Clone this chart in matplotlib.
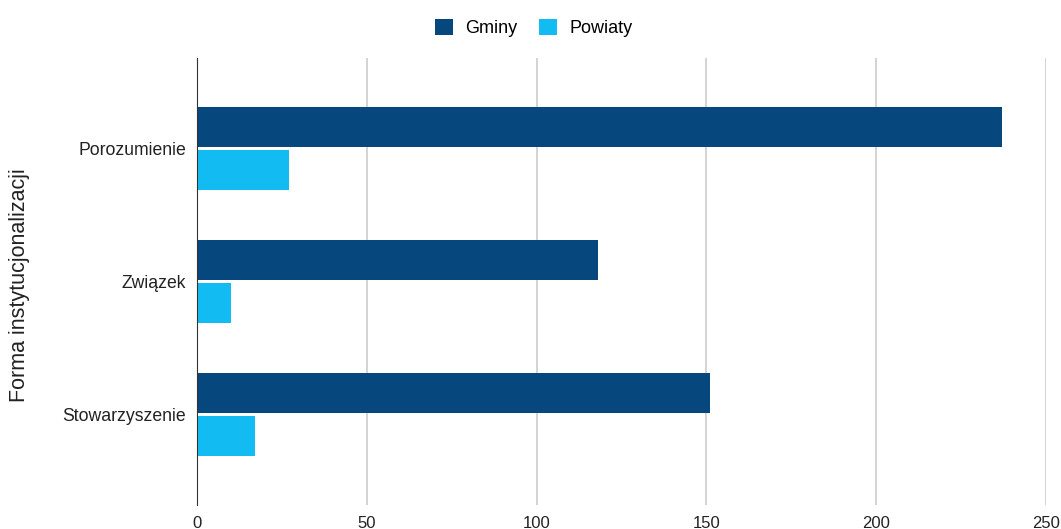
import matplotlib.pyplot as plt
import numpy as np

plt.rcParams['font.family'] = ['Liberation Sans', 'DejaVu Sans']

categories = ['Porozumienie', 'Związek', 'Stowarzyszenie']
gminy = [237, 118, 151]
powiaty = [27, 10, 17]
xticks = [0, 50, 100, 150, 200, 250]

fig = plt.figure(figsize=(10.61, 5.29), dpi=100)
ax = fig.add_axes([0.1857, 0.0454, 0.8002, 0.845])

y = np.arange(len(categories))
h = 0.3
ax.barh(y - h / 2 - 0.01, gminy, height=h, color='#06477d', label='Gminy', zorder=3)
ax.barh(y + h / 2 + 0.01, powiaty, height=h, color='#12bcf2', label='Powiaty', zorder=3)

ax.set_ylim(2.68, -0.68)
ax.set_xlim(0, 250)
ax.set_xticks(xticks)
ax.set_yticks(y)
ax.set_yticklabels(categories)
ax.tick_params(axis='both', length=0, colors='#222222')
ax.tick_params(axis='x', pad=8, labelsize=12)
ax.tick_params(axis='y', pad=8, labelsize=12.7)

ax.grid(axis='x', color='#cccccc', linewidth=1.2, zorder=0)
for s in ['top', 'right', 'bottom']:
    ax.spines[s].set_visible(False)
ax.spines['left'].set_color('#333333')
ax.spines['left'].set_zorder(4)

fig.text(20 / 1061, 1 - 285 / 529, 'Forma instytucjonalizacji', rotation=90,
         fontsize=15.5, color='#222222', ha='center', va='center')

fig.legend(loc='upper center', bbox_to_anchor=(0.503, 0.995), ncol=2, frameon=False,
           fontsize=13, handlelength=1.0, handleheight=1.0, columnspacing=1.2,
           handletextpad=0.7)

fig.savefig('out.png', dpi=100)
